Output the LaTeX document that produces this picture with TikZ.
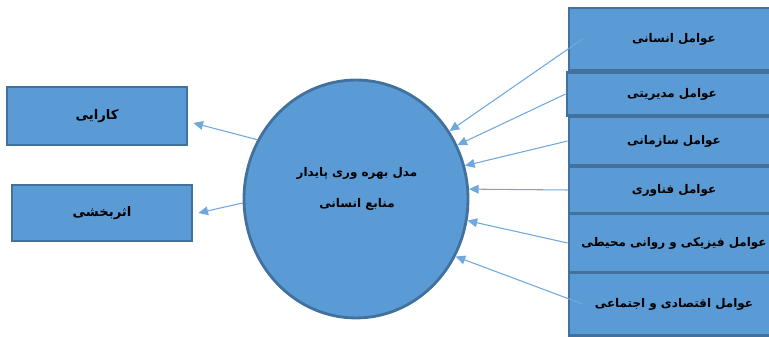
\documentclass[tikz,border=0pt]{standalone}
\usepackage{fontspec}
\usetikzlibrary{arrows.meta,shapes.geometric}
\TeXXeTstate=1
\newfontfamily\arabicfont[Script=Arabic]{DejaVu Sans}
\definecolor{boxfill}{RGB}{91,155,213}
\definecolor{boxline}{RGB}{65,113,156}
\definecolor{arrowline}{RGB}{110,168,220}
\tikzset{
  factor/.style={draw=boxline,fill=boxfill,line width=1.6pt,minimum width=4.2cm,
    inner sep=0pt,font=\arabicfont\bfseries\fontsize{6.8}{9}\selectfont},
  result/.style={draw=boxline,fill=boxfill,line width=1.6pt,minimum width=3.6cm,
    inner sep=0pt,font=\arabicfont\bfseries\fontsize{7.5}{10}\selectfont},
  flow/.style={draw=arrowline,line width=0.6pt,-{Triangle[length=5.5pt,width=5pt]}}
}
\begin{document}
\begin{tikzpicture}[x=0.02cm,y=-0.02cm]
\useasboundingbox (0,0) rectangle (769,337);
\node[draw=boxline,fill=boxfill,line width=1.6pt,ellipse,minimum width=4.48cm,minimum height=4.76cm] (ell) at (356,199) {};
\node[align=center,font=\arabicfont\bfseries\fontsize{6.8}{18}\selectfont] (ctitle) at (357,189)
  {\beginR مدل بهره وری پایدار\endR\\\beginR منابع انسانی\endR};
\node[result,minimum height=1.16cm] (k1) at (97,116) {\beginR کارایی\endR};
\node[result,minimum height=1.12cm] (k2) at (102,213) {\beginR اثربخشی\endR};
\node[factor,minimum height=1.24cm] (b1) at (674,39) {\beginR عوامل انسانی\endR};
\node[factor,minimum height=0.86cm] (b2) at (672,94) {\beginR عوامل مدیریتی\endR};
\node[factor,minimum height=0.96cm] (b3) at (674,141) {\beginR عوامل سازمانی\endR};
\node[factor,minimum height=0.94cm] (b4) at (674,190) {\beginR عوامل فناوری\endR};
\node[factor,minimum height=1.16cm] (b5) at (674,243) {\beginR عوامل فیزیکی و روانی محیطی\endR};
\node[factor,minimum height=1.26cm] (b6) at (674,304) {\beginR عوامل اقتصادی و اجتماعی\endR};
\draw[flow] ([xshift=0.3cm]b1.west) -- (ell.36);
\draw[flow] (b2.west) -- (ell.28);
\draw[flow] (b3.west) -- (ell.17);
\draw[flow] (b4.west) -- (ell.5);
\draw[flow] (b5.west) -- (ell.-11);
\draw[flow] ([xshift=0.3cm]b6.west) -- (ell.-30);
\draw[flow] (ell.149) -- ([xshift=0.1cm,yshift=-0.14cm]k1.east);
\draw[flow] (ell.182) -- ([xshift=0.1cm]k2.east);
\end{tikzpicture}
\end{document}
